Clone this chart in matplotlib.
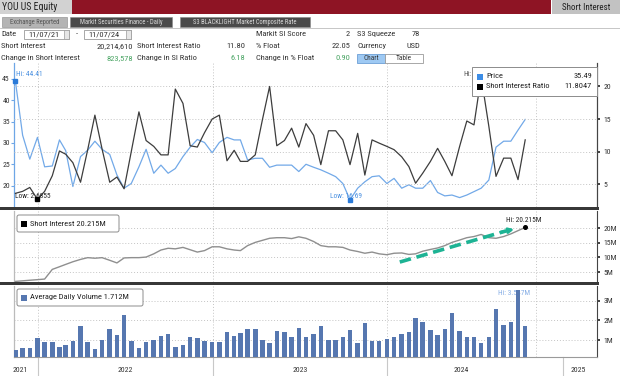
import datetime as dt
import matplotlib
matplotlib.use("Agg")
import matplotlib.pyplot as plt
import matplotlib.transforms as mtransforms
from matplotlib.patches import Rectangle, FancyBboxPatch
from matplotlib import font_manager

# ---------------- data ----------------
first_obs = dt.date(2021, 11, 15)
n_obs = 71

price = [44.41, 31.8, 26.2, 31.3, 24.4, 24.6, 30.7, 28.2, 19.8, 26.8,
         28.3, 30.4, 28.5, 27.3, 22.5, 19.4, 20.5, 24.4, 28.5, 22.9,
         24.8, 22.9, 24.0, 26.8, 29.0, 30.8, 30.1, 27.7, 30.1, 31.3,
         30.7, 30.7, 26.0, 26.4, 26.4, 24.3, 24.8, 24.8, 24.8, 23.3,
         25.0, 24.3, 23.7, 22.9, 22.1, 20.5, 16.69, 19.4, 20.9, 22.1,
         22.3, 20.5, 21.7, 19.4, 20.2, 19.4, 19.4, 21.2, 18.4, 17.6,
         17.8, 17.2, 17.8, 18.6, 19.4, 21.3, 29.0, 30.4, 30.4, 33.0, 35.49]

si_ratio = [3.6, 3.9, 4.5, 2.6855, 3.9, 6.3, 10.1, 9.6, 8.3, 5.3,
            10.3, 15.6, 10.4, 5.3, 6.1, 4.3, 10.0, 16.1, 11.7, 10.8,
            9.5, 9.5, 19.6, 17.4, 10.9, 10.7, 12.9, 15.0, 15.6, 8.6,
            10.2, 8.5, 8.5, 9.5, 14.9, 20.0, 10.9, 11.7, 13.6, 10.7,
            14.3, 12.5, 8.0, 13.2, 13.2, 11.8, 8.0, 12.8, 6.4, 11.8,
            11.3, 10.8, 10.3, 9.2, 7.7, 5.15, 6.7, 8.5, 10.5, 8.5,
            6.3, 10.8, 14.7, 14.1, 21.5, 13.9, 6.2, 9.0, 9.0, 5.7, 11.8047]

short_interest_m = [1.8, 2.0, 2.2, 2.4, 2.6, 5.9, 6.8, 7.6, 8.5, 9.3,
                    9.9, 9.7, 9.9, 9.0, 8.1, 9.8, 9.9, 9.9, 10.1, 11.2,
                    12.5, 13.1, 12.9, 13.4, 12.6, 11.8, 12.3, 13.6, 13.6, 12.9,
                    12.5, 12.3, 14.0, 15.1, 15.8, 16.5, 16.7, 16.7, 16.4, 17.0,
                    16.5, 15.4, 14.0, 13.6, 13.6, 13.4, 12.5, 12.0, 11.4, 11.8,
                    11.2, 10.9, 11.4, 11.5, 11.0, 11.2, 12.1, 12.7, 13.2, 14.0,
                    15.1, 15.9, 16.7, 17.1, 17.8, 16.7, 16.5, 17.1, 18.0, 19.1, 20.215]

avg_volume_m = [0.50, 0.59, 0.62, 1.13, 0.91, 0.91, 0.67, 0.74, 0.98, 1.72,
                0.91, 0.57, 1.01, 1.55, 1.28, 2.26, 0.94, 0.61, 0.89, 1.01,
                1.23, 1.33, 0.66, 0.76, 1.16, 1.09, 0.96, 0.89, 0.89, 1.43,
                1.23, 1.36, 1.55, 1.55, 1.03, 0.84, 1.48, 1.43, 1.18, 1.60,
                1.16, 1.31, 1.73, 1.03, 1.03, 1.14, 1.53, 0.87, 1.85, 0.96,
                0.96, 1.06, 1.14, 1.31, 1.40, 2.10, 1.90, 1.52, 1.25, 1.57,
                2.37, 1.46, 1.18, 1.18, 0.87, 1.16, 2.59, 1.78, 1.90, 3.547, 1.712]

price_ticks = [20, 25, 30, 35, 40, 45]
ratio_ticks = [5, 10, 15, 20]
si_ticks = [5, 10, 15, 20]
vol_ticks = [1, 2, 3]
year_labels = ["2021", "2022", "2023", "2024", "2025"]

header_rows = [
    [("Date", None)],
    [("Short Interest", None), ("20,214,610", "v"), ("Short Interest Ratio", None), ("11.80", "v"),
     ("% Float", None), ("22.05", "v"), ("Currency", None), ("USD", "v")],
    [("Change in Short Interest", None), ("823,578", "g"), ("Change in SI Ratio", None), ("6.18", "g"),
     ("Change in % Float", None), ("0.90", "g")],
]


def semi_monthly(start, n):
    out = []
    y, m = start.year, start.month
    while len(out) < n:
        out.append(dt.date(y, m, 15))
        if len(out) >= n:
            break
        ny, nm = y + m // 12, m % 12 + 1
        out.append(dt.date(ny, nm, 1) - dt.timedelta(days=1))
        y, m = ny, nm
    return out


dates = semi_monthly(first_obs, n_obs)

# ---------------- fonts ----------------
names = {f.name for f in font_manager.fontManager.ttflist}
FONT = "Liberation Sans"
for cand in ["Liberation Sans Narrow", "Roboto Condensed", "Open Sans Condensed", "Liberation Sans"]:
    if cand in names:
        FONT = cand
        break
plt.rcParams["font.family"] = [FONT, "DejaVu Sans"]

W, H = 620, 376
fig = plt.figure(figsize=(W / 100, H / 100), dpi=100)
fig.patch.set_facecolor("white")


def frect(x0, y0, x1, y1):
    return [x0 / W, 1 - y1 / H, (x1 - x0) / W, (y1 - y0) / H]


XL = (dt.date(2021, 11, 12), dt.date(2025, 3, 14))
END_DATE = dt.date(2024, 11, 7)
vgrid = [dt.date(2022, 1, 1), dt.date(2023, 1, 1), dt.date(2024, 1, 1), END_DATE]
GRID_KW = dict(color="#c4c4c4", lw=0.7, ls=(0, (1, 2)))
BLUE = "#72a9e8"
DARK = "#3d3d3d"
TXT = "#333333"
TS = 5.6


def style_panel(ax, left_color="#bbbbbb"):
    ax.set_xlim(*XL)
    ax.set_xticks([])
    for s in ["top", "bottom"]:
        ax.spines[s].set_visible(False)
    ax.spines["left"].set_color(left_color)
    ax.spines["left"].set_linewidth(0.9)
    ax.spines["right"].set_color("#444444")
    ax.spines["right"].set_linewidth(0.8)
    for d in vgrid:
        ax.axvline(d, zorder=0, **GRID_KW)


# ---------------- top panel ----------------
ax1 = fig.add_axes(frect(14, 63, 597, 207))
style_panel(ax1, left_color="#6ea6e6")
ax2 = ax1.twinx()
ax2.set_xlim(*XL)
for s in ["top", "bottom", "left"]:
    ax2.spines[s].set_visible(False)
ax2.spines["right"].set_color("#444444")
ax2.spines["right"].set_linewidth(0.8)

ax1.set_ylim(15.0, 48.7)
ax2.set_ylim(1.5, 23.6)
ax1.set_yticks(price_ticks)
ax1.set_yticklabels([str(t) for t in price_ticks])
ax1.tick_params(axis="y", length=2, width=0.8, colors=TXT, labelsize=TS, pad=1, color="#6ea6e6")
ax2.set_yticks(ratio_ticks)
ax2.set_yticklabels([str(t) for t in ratio_ticks])
ax2.tick_params(axis="y", length=2.5, width=1.3, colors=TXT, labelsize=TS, pad=2)
for t in ratio_ticks:
    ax2.axhline(t, zorder=0, **GRID_KW)

ax1.plot(dates, price, color=BLUE, lw=0.9, zorder=3)
ax2.plot(dates, si_ratio, color=DARK, lw=0.9, zorder=3)

# hi / low markers
ip_hi = max(range(n_obs), key=lambda i: price[i])
ip_lo = min(range(n_obs), key=lambda i: price[i])
ir_hi = max(range(n_obs), key=lambda i: si_ratio[i])
ir_lo = min(range(n_obs), key=lambda i: si_ratio[i])
ax1.plot([dates[ip_hi]], [price[ip_hi]], "s", color="#2a7ad8", ms=2.5, zorder=5, clip_on=False)
ax1.annotate(f"Hi: {price[ip_hi]:.2f}", (dates[ip_hi], price[ip_hi]), xytext=(1, 7),
             textcoords="offset pixels", color="#4a90e0", fontsize=5.3, va="center", ha="left")
ax1.plot([dates[ip_lo]], [price[ip_lo]], "s", color="#2a7ad8", ms=2.5, zorder=5)
ax1.annotate(f"Low: {price[ip_lo]:.2f}", (dates[ip_lo], price[ip_lo]), xytext=(-20, 3),
             textcoords="offset pixels", color="#4a90e0", fontsize=5.3, va="center", ha="left")
ax2.plot([dates[ir_lo]], [si_ratio[ir_lo]], "s", color="black", ms=2.5, zorder=5)
ax2.annotate(f"Low: {si_ratio[ir_lo]:.4f}", (dates[ir_lo], si_ratio[ir_lo]), xytext=(-22, 3),
             textcoords="offset pixels", color="#222222", fontsize=5.3, va="center", ha="left")
# the value of this label is hidden behind the legend in the reference; only "Hi:" shows
ax2.annotate("Hi:", (dates[ir_hi], si_ratio[ir_hi]), xytext=(-18, 2),
             textcoords="offset pixels", color="#555555", fontsize=5.3, va="center", ha="left")

# ---------------- middle panel ----------------
axm = fig.add_axes(frect(14, 211, 597, 282))
style_panel(axm)
axm.yaxis.tick_right()
axm.set_ylim(1.6, 25.8)
axm.set_yticks(si_ticks)
axm.set_yticklabels([f"{t}M" for t in si_ticks])
axm.tick_params(axis="y", length=2.5, width=1.3, colors=TXT, labelsize=TS, pad=2)
for t in si_ticks:
    axm.axhline(t, zorder=0, **GRID_KW)
axm.plot(dates, short_interest_m, color="#8f8f8f", lw=1.0, zorder=3)
axm.plot([dates[-1]], [short_interest_m[-1]], "o", color="black", ms=2.6, zorder=6)
axm.annotate(f"Hi: {short_interest_m[-1]:.3f}M", (dates[-1], short_interest_m[-1]), xytext=(-1, 7),
             textcoords="offset pixels", color="#222222", fontsize=5.3, va="center", ha="center")
# trend arrow
arr_start = (dt.date(2024, 1, 27), 8.4)
arr_end = (dt.date(2024, 9, 22), 19.6)
ARROW = "#1db394"
axm.plot([arr_start[0], dt.date(2024, 9, 5)], [arr_start[1], 19.0], color=ARROW, lw=2.6,
         dashes=(3.2, 1.6), solid_capstyle="butt", zorder=7)
axm.annotate("", xy=arr_end, xytext=(dt.date(2024, 8, 25), 18.6),
             arrowprops=dict(arrowstyle="-|>", color=ARROW, lw=2.0, mutation_scale=7,
                             shrinkA=0, shrinkB=0), zorder=7)

# ---------------- bottom panel ----------------
axb = fig.add_axes(frect(14, 286, 597, 357))
style_panel(axb)
axb.spines["bottom"].set_visible(True)
axb.spines["bottom"].set_color("#9a9a9a")
axb.spines["bottom"].set_linewidth(0.8)
axb.yaxis.tick_right()
axb.set_ylim(0.15, 3.74)
axb.set_yticks(vol_ticks)
axb.set_yticklabels([f"{t}M" for t in vol_ticks])
axb.tick_params(axis="y", length=2.5, width=1.3, colors=TXT, labelsize=TS, pad=2)
for t in vol_ticks:
    axb.axhline(t, zorder=0, **GRID_KW)
axb.bar(dates, avg_volume_m, width=9.5, color="#5677b0", zorder=3)
iv_hi = max(range(n_obs), key=lambda i: avg_volume_m[i])
axb.annotate(f"Hi: {avg_volume_m[iv_hi]:.3f}M", (dates[iv_hi], avg_volume_m[iv_hi]), xytext=(-4, -4),
             textcoords="offset pixels", color="#86aee6", fontsize=5.3, va="center", ha="center",
             zorder=1)

# x axis: year labels centred in their span, separators at year starts
trans = mtransforms.blended_transform_factory(axb.transData, axb.transAxes)
bounds = ([XL[0] - dt.timedelta(days=25)]
          + [dt.date(int(y) + 1, 1, 1) for y in year_labels[:-2]]
          + [END_DATE, dt.date(2025, 5, 1)])
for k, lab in enumerate(year_labels):
    a, b = bounds[k], bounds[k + 1]
    mid = a + (b - a) / 2
    axb.text(mid, -0.19, lab, transform=trans, ha="center", va="center", fontsize=TS, color=TXT,
             clip_on=False)
for y in year_labels[1:]:
    d = dt.date(int(y), 1, 1)
    axb.plot([d, d], [0, -0.27], transform=trans, color="#c8c8c8", lw=0.8, clip_on=False)

# ---------------- overlay: header, separators, legends ----------------
ov = fig.add_axes([0, 0, 1, 1], zorder=20)
ov.set_xlim(0, W)
ov.set_ylim(H, 0)
ov.axis("off")
ov.patch.set_alpha(0)

ov.add_patch(Rectangle((0, 0), 72, 13.5, fc="#d2d2d2", ec="none"))
ov.text(2, 7, "YOU US Equity", fontsize=7, va="center", ha="left", color="#222222")
ov.add_patch(Rectangle((72, 0), 479, 13.5, fc="#8e1424", ec="none"))
ov.add_patch(Rectangle((552, 0), 68, 13.5, fc="#c2c2c2", ec="none"))
ov.text(586, 7, "Short Interest", fontsize=6.5, va="center", ha="center", color="#222222")

tabs = [("Exchange Reported", 2, 67, "#b4b4b4", "#555555"),
        ("Markit Securities Finance - Daily", 70, 172, "#4a4a4a", "#d8d8d8"),
        ("S3 BLACKLIGHT Market Composite Rate", 180, 310, "#4a4a4a", "#d8d8d8")]
for lab, x0, x1, fc, tc in tabs:
    ov.add_patch(Rectangle((x0, 17), x1 - x0, 10, fc=fc, ec="#888888", lw=0.4))
    ov.text((x0 + x1) / 2, 22.2, lab, fontsize=4.7, ha="center", va="center", color=tc)
ov.plot([0, 620], [28, 28], color="#bdbdbd", lw=0.6)

RS = 6.0
ov.text(1, 34, "Date", fontsize=RS, va="center", color=TXT)
for x0, x1, lab in [(24, 69, "11/07/21"), (84, 131, "11/07/24")]:
    ov.add_patch(Rectangle((x0, 29.5), x1 - x0, 9.5, fc="white", ec="#9a9a9a", lw=0.6))
    ov.add_patch(Rectangle((x1 - 5, 29.5), 5, 9.5, fc="#e6e6e6", ec="#9a9a9a", lw=0.5))
    ov.text(x0 + 4, 34.2, lab, fontsize=RS, va="center", color=TXT)
ov.text(76.5, 34, "-", fontsize=RS, va="center", ha="center", color=TXT)

GREEN = "#4aa564"
ov.text(256, 34, "Markit SI Score", fontsize=RS, va="center", color=TXT)
ov.text(350, 34, "2", fontsize=RS, va="center", ha="right", color=TXT)
ov.text(357, 34, "S3 Squeeze", fontsize=RS, va="center", color=TXT)
ov.text(420, 34, "78", fontsize=RS, va="center", ha="right", color=TXT)

col_x = [(1, "l"), (133, "r"), (137, "l"), (245, "r"), (256, "l"), (350, "r"), (357, "l"), (420, "r")]
for r, yy in zip(header_rows[1:], [46, 58]):
    for (txt, kind), (xx, al) in zip(r, col_x):
        col = GREEN if kind == "g" else TXT
        ov.text(xx, yy, txt, fontsize=RS, va="center", ha="left" if al == "l" else "right", color=col)
ov.add_patch(Rectangle((357, 53.5), 28, 9, fc="#9ec9f3", ec="#6d9fd6", lw=0.6))
ov.text(371, 58, "Chart", fontsize=5.2, va="center", ha="center", color="#333333")
ov.add_patch(Rectangle((385, 53.5), 38, 9, fc="white", ec="#9a9a9a", lw=0.6))
ov.text(404, 58, "Table", fontsize=5.2, va="center", ha="center", color="#333333")

# panel separators
for ysep in [208.5, 283.5]:
    ov.add_patch(Rectangle((0, ysep - 1.5), 599, 3, fc="#383838", ec="none"))

# top legend
ov.add_patch(Rectangle((472, 67), 125, 29, fc="white", ec="#8c8c8c", lw=0.7))
ov.add_patch(Rectangle((477, 73.5), 6, 6, fc="#3d8de6", ec="none"))
ov.text(486, 76.5, "Price", fontsize=RS, va="center", color="#222222")
ov.text(592, 76.5, f"{price[-1]:.2f}", fontsize=RS, va="center", ha="right", color="#222222")
ov.add_patch(Rectangle((477, 83.5), 6, 6, fc="black", ec="none"))
ov.text(486, 86.5, "Short Interest Ratio", fontsize=RS, va="center", color="#222222")
ov.text(592, 86.5, f"{si_ratio[-1]:.4f}", fontsize=RS, va="center", ha="right", color="#222222")

# middle legend
ov.add_patch(FancyBboxPatch((17, 215), 102, 17, boxstyle="round,pad=0,rounding_size=2",
                            fc="white", ec="#8c8c8c", lw=0.7))
ov.add_patch(Rectangle((21, 220.5), 6, 6, fc="black", ec="none"))
ov.text(30, 223.5, f"Short Interest {short_interest_m[-1]:.3f}M", fontsize=RS, va="center", color="#222222")

# bottom legend
ov.add_patch(FancyBboxPatch((17, 289), 126, 17, boxstyle="round,pad=0,rounding_size=2",
                            fc="white", ec="#8c8c8c", lw=0.7))
ov.add_patch(Rectangle((21, 294.5), 6, 6, fc="#5677b0", ec="none"))
ov.text(30, 297.5, f"Average Daily Volume {avg_volume_m[-1]:.3f}M", fontsize=RS, va="center", color="#222222")

fig.savefig("out.png", dpi=100, facecolor="white")
